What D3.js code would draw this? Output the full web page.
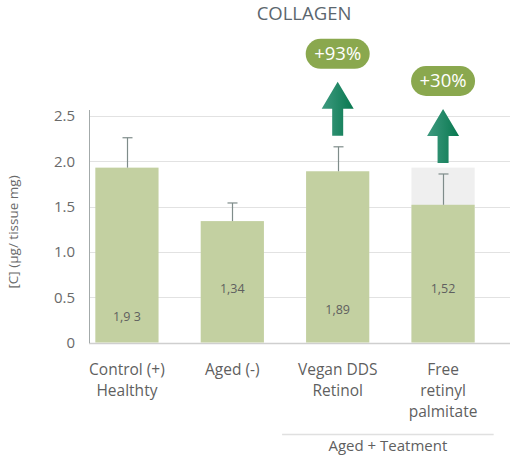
<!DOCTYPE html>
<html lang="en">
<head>
<meta charset="utf-8">
<title>Collagen</title>
<script src="https://cdn.jsdelivr.net/npm/d3@7"></script>
<style>
  body { margin: 0; background: #fff; }
  svg text { font-family: "Open Sans", "Noto Sans", sans-serif; }
  .axis path, .axis line { display: none; }
  .axis text { font-size: 15px; fill: #6a6a6a; }
</style>
</head>
<body>
<script>
// chart data
var categories = ["Control (+)|Healthty", "Aged (-)", "Vegan DDS|Retinol", "Free|retinyl|palmitate"];
var values = [1.93, 1.34, 1.89, 1.52];
var errorTops = [2.26, 1.54, 2.16, 1.86];
var valueLabels = ["1,9 3", "1,34", "1,89", "1,52"];
var labelLevels = [0.29, 0.6, 0.36, 0.6];
var ghostValues = [null, null, null, 1.93];
var increases = [null, null, "+93%", "+30%"];
var yTicks = [0, 0.5, 1.0, 1.5, 2.0, 2.5];
var groupLabel = "Aged + Teatment";
var groupRange = [2, 3];

var w = 510, h = 455;

var svg = d3.select("body").append("svg")
  .attr("width", w)
  .attr("height", h);

var x = d3.scaleBand()
  .domain(d3.range(categories.length))
  .range([89, 481])
  .paddingInner(0.4)
  .paddingOuter(0.06);

var y = d3.scaleLinear()
  .domain([0, 2.5])
  .range([342.5, 116]);

// defs: arrow gradient
var defs = svg.append("defs");
var grad = defs.append("linearGradient")
  .attr("id", "arrowGrad")
  .attr("x1", "0%").attr("x2", "100%")
  .attr("y1", "0%").attr("y2", "0%");
grad.append("stop").attr("offset", "0%").attr("stop-color", "#3f9a80");
grad.append("stop").attr("offset", "100%").attr("stop-color", "#08784f");

// title
svg.append("text")
  .attr("x", 304)
  .attr("y", 19.5)
  .attr("text-anchor", "middle")
  .attr("font-size", 18.5)
  .attr("fill", "#5b666e")
  .text("COLLAGEN");

// gridlines
svg.append("g").selectAll("line")
  .data(yTicks)
  .enter().append("line")
  .attr("x1", 89).attr("x2", 510)
  .attr("y1", function(d) { return Math.round(y(d)) + 0.5; })
  .attr("y2", function(d) { return Math.round(y(d)) + 0.5; })
  .attr("stroke", function(d) { return d === 0 ? "#cfcfcf" : "#e2e2e2"; })
  .attr("stroke-width", function(d) { return d === 0 ? 1.5 : 1.2; });

// y axis line
svg.append("line")
  .attr("x1", 89.5).attr("x2", 89.5)
  .attr("y1", 110).attr("y2", 343)
  .attr("stroke", "#a3aaaa")
  .attr("stroke-width", 1);

var yAxis = d3.axisLeft(y)
  .tickValues(yTicks)
  .tickSize(0)
  .tickPadding(14)
  .tickFormat(function(d) { return d === 0 ? "0" : d3.format(".1f")(d); });

svg.append("g")
  .attr("class", "axis")
  .attr("transform", "translate(89,0)")
  .call(yAxis);

// y axis title
svg.append("text")
  .attr("transform", "translate(13," + 232 + ") rotate(-90)")
  .attr("text-anchor", "middle")
  .attr("dy", "0.35em")
  .attr("font-size", 13.5)
  .attr("fill", "#6a6a6a")
  .text("[C] (\u00b5g/ tissue mg)");

// ghost bars
svg.append("g").selectAll("rect")
  .data(ghostValues)
  .enter().filter(function(d) { return d !== null; })
  .append("rect")
  .attr("x", function(d, i) { return x(ghostValues.indexOf(d)); })
  .attr("width", x.bandwidth())
  .attr("y", function(d) { return y(d); })
  .attr("height", function(d) { return y(0) - y(d); })
  .attr("fill", "#efefef");

// bars
svg.append("g").selectAll("rect")
  .data(values)
  .enter().append("rect")
  .attr("x", function(d, i) { return x(i); })
  .attr("width", x.bandwidth())
  .attr("y", function(d) { return y(d); })
  .attr("height", function(d) { return y(0) - y(d); })
  .attr("fill", "#c3d0a1");

// error bars (upper only)
var err = svg.append("g").attr("stroke", "#7f8c8a").attr("stroke-width", 1.2);
values.forEach(function(v, i) {
  var cx = Math.round(x(i) + x.bandwidth() / 2) + 0.5;
  err.append("line")
    .attr("x1", cx).attr("x2", cx)
    .attr("y1", y(v)).attr("y2", y(errorTops[i]));
  err.append("line")
    .attr("x1", cx - 5).attr("x2", cx + 5)
    .attr("y1", y(errorTops[i])).attr("y2", y(errorTops[i]));
});

// value labels inside bars
svg.append("g").selectAll("text")
  .data(valueLabels)
  .enter().append("text")
  .attr("x", function(d, i) { return x(i) + x.bandwidth() / 2; })
  .attr("y", function(d, i) { return y(labelLevels[i]) + 4.5; })
  .attr("text-anchor", "middle")
  .attr("font-size", 12.5)
  .attr("fill", "#5f5f5f")
  .text(function(d) { return d; });

// arrows + pills
increases.forEach(function(lbl, i) {
  if (lbl === null) return;
  var cx = x(i) + x.bandwidth() / 2;
  var base = y(errorTops[i]) - 11;
  var tip = base - 54;
  var headBase = base - 27;
  var arrow = d3.path();
  arrow.moveTo(cx - 5.5, base);
  arrow.lineTo(cx - 5.5, headBase);
  arrow.lineTo(cx - 16, headBase);
  arrow.lineTo(cx, tip);
  arrow.lineTo(cx + 16, headBase);
  arrow.lineTo(cx + 5.5, headBase);
  arrow.lineTo(cx + 5.5, base);
  arrow.closePath();
  svg.append("path")
    .attr("d", arrow.toString())
    .attr("fill", "url(#arrowGrad)");

  var pw = 64, ph = 30;
  var py = tip - 13 - ph;
  svg.append("rect")
    .attr("x", cx - pw / 2)
    .attr("y", py)
    .attr("width", pw)
    .attr("height", ph)
    .attr("rx", 15)
    .attr("fill", "#8aa84e");
  svg.append("text")
    .attr("x", cx)
    .attr("y", py + ph / 2 + 6.5)
    .attr("text-anchor", "middle")
    .attr("font-size", 18.5)
    .attr("fill", "#fff")
    .text(lbl);
});

// category labels
var catG = svg.append("g");
categories.forEach(function(c, i) {
  var t = catG.append("text")
    .attr("text-anchor", "middle")
    .attr("font-size", 15.5)
    .attr("fill", "#5f5f5f");
  c.split("|").forEach(function(line, j) {
    t.append("tspan")
      .attr("x", x(i) + x.bandwidth() / 2)
      .attr("y", 374.5 + j * 21.3)
      .text(line);
  });
});

// group separator and label
var gx1 = x(groupRange[0]) - 24;
var gx2 = x(groupRange[1]) + x.bandwidth() + 19;
svg.append("line")
  .attr("x1", gx1).attr("x2", gx2)
  .attr("y1", 434.5).attr("y2", 434.5)
  .attr("stroke", "#e0e0e0")
  .attr("stroke-width", 1.5);
svg.append("text")
  .attr("x", (gx1 + gx2) / 2)
  .attr("y", 451)
  .attr("text-anchor", "middle")
  .attr("font-size", 15)
  .attr("fill", "#5f5f5f")
  .text(groupLabel);
</script>
</body>
</html>
